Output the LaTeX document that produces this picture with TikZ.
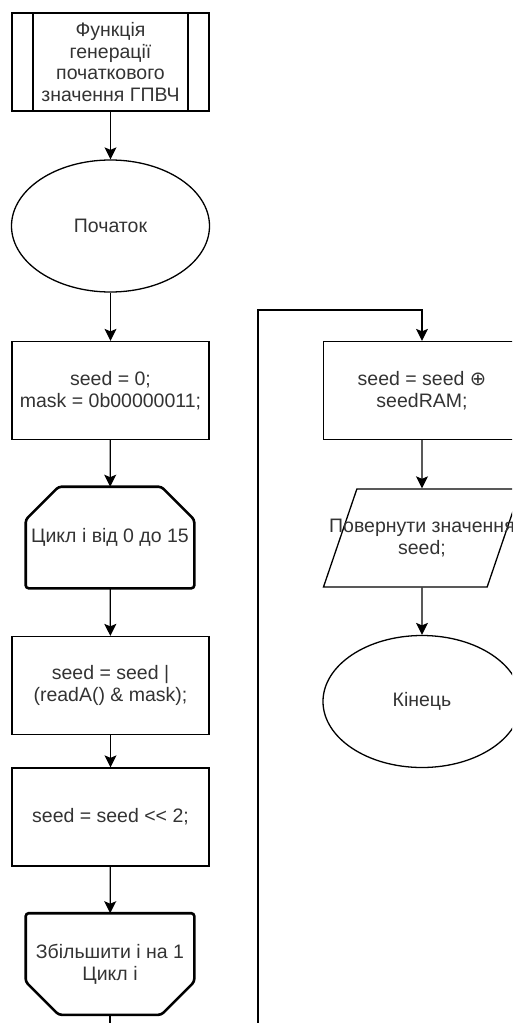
\documentclass[tikz,border=0pt]{standalone}
\usepackage{fontspec}
\setmainfont{Liberation Sans}
\newfontfamily\symfont{DejaVu Sans}
\usetikzlibrary{arrows.meta}
\usetikzlibrary{shapes.geometric}
\definecolor{txtgray}{RGB}{51,51,51}

\begin{document}
\begin{tikzpicture}[x = 1pt, y = -1pt]
\tikzstyle{every node}=[font = \fontsize{19.5}{21.7}\selectfont,
                        text = txtgray,
                        align = center]
\tikzstyle{BlockStyle}=[shape = rectangle,
                        minimum width = 197pt,
                        minimum height = 98pt,
                        line width = 1.3pt,
                        draw]
\tikzstyle{SubStyle}=[BlockStyle,
                      path picture = {\draw[line width = 1.3pt]
                        ([xshift = 21pt]path picture bounding box.north west) --
                        ([xshift = 21pt]path picture bounding box.south west);
                        \draw[line width = 1.3pt]
                        ([xshift = -21pt]path picture bounding box.north east) --
                        ([xshift = -21pt]path picture bounding box.south east);}]
\tikzstyle{TermStyle}=[shape = ellipse,
                       minimum width = 198pt,
                       minimum height = 132pt,
                       line width = 1.3pt,
                       draw]
\tikzstyle{LoopStyle}=[shape = rectangle,
                       minimum width = 166pt,
                       minimum height = 99pt,
                       inner sep = 0pt,
                       outer sep = 1.3pt]
\tikzstyle{LoopLine}=[line width = 2.6pt,
                      rounded corners = 3pt]
\tikzstyle{IOStyle}=[shape = trapezium,
                     trapezium left angle = 72,
                     trapezium right angle = 108,
                     trapezium stretches = true,
                     minimum width = 198pt,
                     minimum height = 98pt,
                     inner sep = 0pt,
                     line width = 1.3pt,
                     draw]
\tikzstyle{ArrowStyle}=[line width = 1.3pt,
                        -{Stealth[length = 12pt, width = 12pt, inset = 2.5pt]}]
\useasboundingbox (0,0) rectangle (512,1023);
\clip (0,0) rectangle (512,1023);
\node[SubStyle] (b0) at (110.5, 62) {Функція\\генерації\\початкового\\значення ГПВЧ};
\node[TermStyle] (b1) at (110.5, 226) {Початок};
\node[BlockStyle] (b2) at (110.5, 390.5) {seed = 0;\\mask = 0b00000011;};
\node[LoopStyle] (b3) at (110, 537.5) {\makebox[0pt]{Цикл і від 0 до 15}};
\node[BlockStyle] (b4) at (110.5, 685.5) {seed = seed |\\(readA() \& mask);};
\node[BlockStyle] (b5) at (110.5, 817) {seed = seed <\kern0pt< 2;};
\node[LoopStyle] (b6) at (110, 964) {\makebox[0pt]{Збільшити і на 1}\\\makebox[0pt]{Цикл і}};
\node[BlockStyle] (b7) at (422, 390.5) {seed = seed {\symfont ⊕}\\seedRAM;};
\node[IOStyle] (b8) at (422, 538) {\makebox[0pt]{Повернути значення}\\seed;};
\node[TermStyle] (b9) at (422, 701.5) {Кінець};
% loop limits
\draw[LoopLine] ([xshift = 33pt]b3.north west) -- ([xshift = -33pt]b3.north east)
  -- ([yshift = -33pt]b3.north east) -- (b3.south east) -- (b3.south west)
  -- ([yshift = -33pt]b3.north west) -- cycle;
\draw[LoopLine] (b6.north west) -- (b6.north east) -- ([yshift = 33pt]b6.south east)
  -- ([xshift = -33pt]b6.south east) -- ([xshift = 33pt]b6.south west)
  -- ([yshift = 33pt]b6.south west) -- cycle;
\draw[ArrowStyle] (b0) -- (b1);
\draw[ArrowStyle] (b1) -- (b2);
\draw[ArrowStyle] (b2) -- (b3);
\draw[ArrowStyle] (b3) -- (b4);
\draw[ArrowStyle] (b4) -- (b5);
\draw[ArrowStyle] (b5) -- (b6);
\draw[ArrowStyle] (b6.south) -- (110, 1045) -- (258, 1045) -- (258, 310) -| (b7.north);
\draw[ArrowStyle] (b7) -- (b8);
\draw[ArrowStyle] (b8) -- (b9);
\end{tikzpicture}
\end{document}
